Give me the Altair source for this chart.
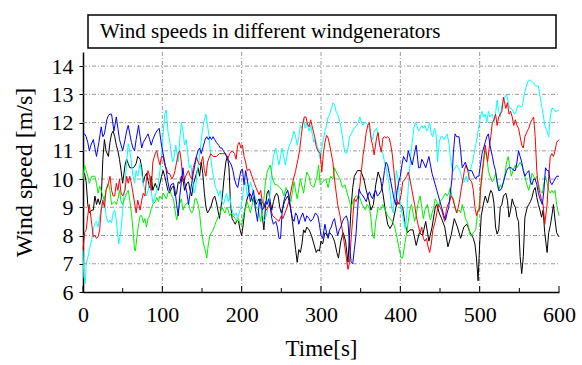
import altair as alt
import pandas as pd

SERIF = "Liberation Serif"

chart_title = "Wind speeds in different windgenerators"
x_title = "Time[s]"
y_title = "Wind speed [m/s]"

x_ticks = [0, 100, 200, 300, 400, 500, 600]
x_minor = [50, 150, 250, 350, 450, 550]
y_ticks = [6, 7, 8, 9, 10, 11, 12, 13, 14]
x_grid = [100, 200, 300, 400, 500]
y_grid = [7, 8, 9, 10, 11, 12, 13, 14]

# (time [s], wind speed [m/s])
black = [(0,10.2),(2,10.2),(4,9.9),(6,9.1),(8,8.8),(11,8.9),(13,8.9),(15,9.4),(17,9.1),(19,9.3),(21,9.1),(23,9.3),(25,10.7),(27,11.4),(29,11.0),(32,10.8),(34,11.3),(36,11.6),(38,11.7),(40,11.5),(42,11.2),(44,11.0),(46,10.7),(48,10.3),(50,9.85),(53,10.5),(55,10.7),(57,10.55),(59,10.4),(61,10.4),(63,10.4),(65,10.45),(67,10.55),(69,10.8),(72,10.7),(74,10.4),(76,9.85),(78,10.1),(80,10.2),(82,9.95),(84,9.7),(86,10.1),(88,9.6),(91,9.85),(93,9.7),(95,9.6),(97,9.85),(99,10.1),(101,10.3),(103,10.1),(105,9.85),(107,9.6),(109,9.5),(112,9.7),(114,9.75),(116,9.4),(118,9.5),(120,9.9),(122,9.85),(124,10.1),(126,10.0),(128,9.6),(131,9.85),(133,9.9),(135,9.6),(137,9.4),(139,9.8),(141,10.0),(143,10.2),(145,10.4),(147,10.1),(149,10.6),(151,10.2),(153,9.5),(155,9.0),(157,8.8),(159,8.9),(161,9.0),(164,9.3),(166,9.4),(168,9.2),(170,8.9),(172,8.6),(174,9.0),(176,9.5),(178,10.1),(180,10.6),(182,10.8),(184,10.4),(186,9.1),(188,8.6),(190,8.5),(192,8.4),(194,8.55),(196,8.5),(198,8.2),(200,8.0),(202,8.4),(204,8.9),(206,9.2),(208,9.4),(210,9.5),(212,9.4),(214,9.2),(216,9.4),(218,9.1),(220,9.2),(222,9.3),(224,9.1),(226,8.7),(228,8.2),(230,9.0),(232,9.5),(234,9.6),(236,9.2),(238,8.9),(240,9.2),(242,9.4),(244,9.5),(246,9.4),(248,9.0),(250,8.8),(252,9.0),(254,9.2),(256,9.3),(258,9.4),(260,9.2),(262,8.9),(264,8.5),(266,8.0),(268,7.5),(270,7.05),(272,7.5),(274,7.4),(276,7.7),(278,8.2),(280,8.1),(282,8.3),(285,8.2),(288,8.0),(291,7.7),(294,7.4),(296,7.5),(298,7.45),(300,7.8),(302,7.7),(305,8.1),(308,8.0),(311,8.1),(314,8.0),(317,7.8),(320,7.4),(322,7.2),(325,7.8),(328,8.1),(331,7.8),(334,7.05),(336,8.0),(338,9.0),(340,9.7),(342,10.1),(346,10.3),(350,10.3),(354,10.0),(357,9.6),(360,9.3),(363,8.9),(366,9.1),(369,9.8),(372,10.25),(375,10.0),(378,9.5),(381,8.9),(384,8.4),(387,8.25),(390,8.4),(393,8.8),(396,9.2),(400,9.1),(403,9.0),(406,8.4),(409,8.1),(412,8.2),(416,8.2),(420,7.65),(424,8.1),(428,8.0),(432,8.5),(436,7.8),(440,8.3),(444,9.0),(446,9.1),(449,8.8),(452,8.6),(456,8.3),(460,7.6),(464,8.0),(468,8.6),(472,8.3),(476,7.9),(480,8.3),(484,8.4),(488,8.1),(492,7.9),(494,7.7),(496,7.2),(498,6.4),(500,7.7),(502,8.7),(505,9.15),(507,9.4),(510,9.15),(512,9.4),(514,9.6),(516,9.5),(518,9.15),(520,8.3),(522,8.05),(524,8.2),(526,9.0),(528,9.1),(530,9.4),(533,9.5),(535,9.25),(537,8.65),(539,8.9),(541,9.3),(543,9.1),(545,9.0),(547,8.65),(549,8.5),(551,7.25),(553,6.65),(555,7.25),(557,8.65),(560,9.0),(562,9.1),(564,9.2),(566,9.35),(568,9.6),(570,9.7),(572,9.35),(574,9.1),(576,8.9),(578,8.65),(580,8.9),(582,8.1),(585,7.4),(587,8.1),(589,8.35),(591,8.7),(593,9.1),(595,8.55),(597,8.1),(600,7.95)]

red = [(0,7.5),(2,8.1),(4,8.2),(6,8.7),(8,9.1),(11,8.4),(13,7.95),(15,8.0),(17,7.9),(19,7.95),(21,8.2),(23,8.9),(25,9.25),(27,9.0),(29,9.6),(32,9.85),(34,10.1),(36,9.6),(38,9.4),(40,9.4),(42,9.85),(44,9.6),(46,10.0),(48,9.5),(50,9.4),(53,9.6),(55,10.1),(57,9.85),(59,10.1),(61,9.85),(63,9.5),(65,9.15),(67,8.8),(69,9.25),(72,8.9),(74,9.25),(76,9.5),(78,9.4),(80,10.0),(82,10.3),(84,10.1),(86,9.6),(88,10.6),(91,10.9),(93,11.0),(95,10.7),(97,10.5),(99,10.8),(101,10.8),(103,10.5),(105,10.4),(107,10.2),(109,10.2),(112,10.0),(114,10.1),(116,10.3),(118,10.6),(120,10.9),(122,11.0),(124,10.6),(126,9.9),(128,10.0),(131,10.2),(133,10.3),(135,10.1),(137,10.0),(139,10.4),(141,10.6),(143,10.8),(145,10.6),(147,10.5),(149,10.6),(151,10.8),(153,10.3),(155,10.1),(157,10.6),(159,10.75),(161,10.9),(164,10.8),(168,10.8),(172,10.9),(176,10.9),(180,10.9),(182,10.7),(185,10.9),(188,11.0),(191,10.9),(193,10.7),(195,11.2),(197,11.3),(199,11.1),(201,11.2),(203,10.8),(205,10.6),(207,10.3),(210,10.35),(213,10.1),(216,9.85),(218,9.7),(222,9.45),(224,9.6),(226,9.2),(229,9.0),(231,8.9),(235,9.1),(239,8.7),(243,8.6),(247,8.5),(250,8.7),(252,8.6),(256,8.9),(260,9.25),(264,9.85),(268,10.3),(271,10.7),(273,11.0),(275,11.5),(277,11.95),(279,12.2),(281,12.2),(283,11.95),(285,11.85),(287,12.1),(289,11.85),(292,11.5),(294,11.15),(296,11.0),(299,10.9),(301,10.25),(303,10.9),(305,11.3),(307,11.55),(309,11.45),(311,11.2),(313,10.9),(315,10.6),(317,10.0),(319,9.55),(321,9.1),(324,8.7),(326,8.35),(328,8.0),(330,7.6),(332,7.2),(334,6.8),(336,7.05),(338,7.9),(340,8.6),(342,9.3),(344,9.2),(347,9.4),(349,9.75),(351,10.3),(353,10.85),(355,11.2),(357,11.65),(359,11.9),(361,12.0),(363,11.45),(365,11.2),(367,10.85),(370,11.45),(372,11.65),(374,11.2),(376,10.95),(378,11.45),(380,11.5),(382,11.45),(384,11.5),(386,11.45),(388,11.2),(390,10.85),(392,10.25),(395,9.4),(397,9.1),(399,9.2),(401,9.45),(403,9.9),(406,10.0),(408,10.1),(410,10.25),(412,10.0),(414,9.7),(416,9.4),(418,9.1),(420,8.7),(423,8.3),(425,8.1),(427,8.3),(429,7.9),(431,7.8),(433,7.9),(435,7.6),(437,7.4),(439,7.7),(441,8.2),(444,8.5),(446,8.8),(448,9.1),(450,9.0),(452,8.9),(454,8.7),(456,8.5),(458,8.9),(460,9.1),(462,9.2),(464,9.4),(466,9.3),(469,9.0),(471,8.8),(473,9.0),(475,9.3),(477,9.7),(479,10.0),(481,10.35),(483,10.5),(485,10.3),(487,10.0),(490,9.9),(492,9.6),(494,9.0),(496,8.7),(498,8.9),(500,8.9),(501,9.6),(503,10.2),(505,10.7),(507,11.2),(510,10.6),(512,11.1),(514,11.5),(516,12.0),(518,12.1),(520,12.3),(522,11.9),(524,12.2),(528,12.4),(530,12.9),(533,12.5),(535,12.7),(537,12.3),(539,12.4),(541,12.2),(543,11.9),(545,12.1),(547,11.9),(549,11.8),(551,11.5),(553,11.2),(555,11.1),(557,11.5),(560,11.7),(562,11.8),(564,12.0),(566,12.1),(568,12.2),(570,11.5),(572,10.3),(574,9.7),(576,9.5),(578,9.25),(580,9.1),(582,8.4),(585,9.1),(587,10.1),(589,10.8),(591,10.9),(593,10.8),(595,11.0),(597,11.3),(600,11.4)]

green = [(0,10.0),(2,10.5),(4,10.3),(6,10.1),(8,9.85),(11,10.1),(13,10.1),(15,10.1),(17,9.85),(19,9.5),(21,9.75),(23,9.6),(25,9.4),(27,9.25),(29,9.6),(32,9.85),(34,9.6),(36,9.1),(38,9.15),(40,9.2),(42,9.1),(44,9.3),(46,9.6),(48,9.2),(50,9.1),(53,9.35),(55,9.5),(57,9.6),(59,9.25),(61,8.8),(63,8.2),(65,7.5),(66,7.45),(69,8.2),(72,8.7),(74,8.7),(76,8.45),(78,8.6),(80,8.3),(82,8.6),(84,8.7),(86,8.95),(88,9.1),(91,9.2),(93,9.35),(95,9.2),(97,9.4),(99,9.3),(101,9.5),(103,9.4),(105,9.3),(107,9.5),(109,9.6),(112,9.4),(114,9.3),(116,8.9),(118,8.55),(120,8.8),(122,9.15),(124,9.3),(126,8.9),(128,9.05),(131,9.15),(133,9.15),(135,8.9),(137,8.8),(139,8.9),(141,9.3),(143,9.3),(145,9.1),(147,8.8),(149,8.2),(152,7.7),(154,7.5),(156,7.2),(158,7.7),(160,8.0),(162,8.1),(164,8.2),(166,8.35),(168,8.5),(171,8.7),(173,8.8),(175,9.0),(177,8.9),(179,8.8),(181,9.0),(183,8.9),(185,8.7),(187,8.8),(189,8.7),(192,8.6),(194,8.5),(196,8.6),(198,8.4),(200,8.4),(203,8.8),(207,9.2),(211,8.8),(215,9.3),(218,9.0),(221,8.9),(224,8.5),(227,9.0),(230,9.9),(232,10.25),(236,10.5),(239,10.0),(242,9.8),(245,9.8),(248,9.7),(251,9.6),(253,9.4),(256,9.7),(259,9.5),(262,9.2),(266,9.9),(270,9.3),(274,10.0),(278,9.5),(282,10.25),(285,10.1),(287,9.8),(291,9.7),(295,10.1),(297,10.5),(299,9.8),(302,9.9),(306,10.0),(309,9.7),(312,10.1),(315,10.0),(317,10.4),(320,10.2),(324,10.0),(327,9.7),(330,9.8),(334,9.4),(338,9.0),(340,9.2),(344,9.4),(348,9.4),(352,9.1),(356,8.9),(358,9.1),(361,9.0),(363,8.6),(365,8.0),(367,7.9),(369,8.5),(372,9.0),(375,8.9),(378,9.1),(381,8.9),(384,8.7),(387,8.6),(390,8.5),(393,8.3),(396,7.9),(398,7.6),(401,7.2),(403,7.2),(405,7.6),(408,8.1),(410,8.5),(412,8.9),(414,9.1),(416,8.8),(418,8.5),(420,8.7),(422,9.1),(425,9.4),(427,9.0),(429,8.6),(431,8.9),(434,9.1),(436,8.8),(438,8.55),(440,8.8),(442,9.0),(444,9.3),(446,9.2),(448,9.0),(450,9.2),(453,9.3),(455,9.4),(457,9.5),(459,9.4),(461,9.5),(463,9.7),(465,9.4),(467,9.3),(469,9.0),(471,8.8),(474,8.9),(476,8.8),(478,9.1),(480,8.9),(482,8.6),(484,8.5),(486,8.3),(488,8.0),(490,8.0),(492,8.1),(495,8.2),(497,8.7),(499,9.0),(501,9.6),(503,10.1),(505,10.6),(507,11.0),(509,10.8),(511,10.3),(513,10.1),(516,9.9),(518,10.0),(520,10.2),(522,9.9),(524,9.6),(526,9.8),(528,9.7),(530,9.9),(532,10.2),(534,10.6),(536,10.8),(538,10.4),(540,10.1),(542,10.3),(545,10.5),(547,10.4),(549,10.5),(551,10.6),(553,10.5),(555,10.3),(557,10.1),(559,9.85),(562,9.6),(564,9.85),(566,10.2),(568,10.1),(570,10.0),(572,10.1),(574,9.85),(576,9.6),(579,9.5),(581,9.85),(583,10.1),(585,9.85),(587,9.6),(589,9.5),(591,9.6),(593,9.5),(595,9.6),(597,9.1),(600,8.7)]

cyan = [(0,7.5),(1,6.55),(3,6.3),(4,7.0),(6,7.2),(8,7.5),(11,7.85),(13,8.2),(15,8.45),(17,8.5),(19,8.3),(21,8.65),(23,9.0),(25,9.25),(27,9.4),(29,8.7),(32,8.45),(34,8.55),(36,8.45),(38,8.8),(40,8.9),(42,8.55),(44,7.95),(45,7.7),(48,8.2),(50,8.9),(53,9.85),(55,10.6),(57,11.25),(59,11.0),(61,10.6),(63,10.1),(65,9.85),(67,10.3),(69,10.1),(72,10.55),(74,10.2),(76,9.85),(78,9.6),(80,9.4),(82,9.6),(84,9.85),(86,9.6),(88,9.15),(91,9.4),(93,9.6),(95,9.85),(97,10.3),(99,10.8),(101,11.6),(103,12.3),(105,12.45),(107,11.7),(109,11.4),(111,11.0),(113,10.6),(115,10.8),(117,11.2),(120,10.6),(122,11.4),(124,12.0),(126,11.7),(128,11.2),(130,11.4),(132,10.9),(134,10.4),(136,10.5),(138,10.0),(140,9.5),(142,9.7),(144,10.3),(146,10.6),(148,11.1),(150,11.6),(152,12.0),(155,12.3),(157,11.9),(159,11.5),(161,10.8),(163,10.3),(165,10.0),(167,9.7),(169,9.6),(171,9.4),(173,9.6),(175,9.2),(177,9.1),(179,9.3),(181,9.5),(183,9.2),(185,9.4),(187,9.0),(189,8.8),(191,8.7),(193,8.8),(195,8.6),(197,8.8),(199,9.0),(201,9.3),(203,9.8),(205,9.9),(207,9.4),(209,9.6),(211,9.9),(213,9.7),(215,9.5),(218,9.3),(220,9.2),(222,9.1),(224,9.05),(226,8.8),(228,8.5),(230,8.6),(232,8.8),(234,9.1),(236,9.5),(238,10.4),(240,10.8),(243,11.1),(245,10.8),(247,10.5),(249,10.8),(251,11.1),(253,10.8),(255,10.5),(257,10.8),(259,11.1),(262,11.3),(264,11.5),(266,11.7),(268,11.5),(270,11.2),(272,11.5),(274,11.9),(276,11.8),(278,12.15),(280,11.8),(282,12.0),(285,11.7),(287,11.9),(289,11.6),(291,11.3),(293,11.4),(295,11.2),(297,11.0),(299,10.7),(301,11.1),(303,11.4),(305,11.7),(307,11.9),(309,12.2),(311,12.3),(313,12.5),(315,12.7),(317,12.65),(319,12.4),(321,12.3),(324,12.0),(326,11.7),(328,11.3),(330,10.95),(332,10.9),(334,11.1),(336,11.5),(338,11.6),(340,11.7),(342,11.8),(345,11.9),(347,12.0),(349,12.2),(351,12.0),(353,11.9),(355,12.0),(357,12.0),(359,11.9),(361,11.8),(363,11.5),(365,11.4),(367,11.7),(370,11.8),(372,11.5),(374,11.2),(376,11.0),(378,10.9),(380,10.6),(382,10.4),(384,10.1),(386,9.8),(389,9.0),(391,8.8),(393,9.5),(395,10.3),(397,10.0),(399,9.3),(402,8.8),(404,8.6),(406,8.25),(408,8.7),(410,9.7),(413,10.8),(415,11.3),(417,11.8),(419,12.0),(421,11.9),(423,11.7),(425,11.8),(427,11.9),(429,11.8),(431,11.9),(433,11.7),(435,11.8),(437,12.0),(439,11.6),(441,11.5),(443,11.8),(445,11.6),(447,10.6),(449,11.3),(451,11.5),(453,11.5),(455,11.4),(457,11.5),(459,11.6),(461,11.3),(463,10.8),(465,10.4),(467,10.3),(469,10.4),(471,10.5),(473,10.4),(475,10.3),(477,10.1),(479,9.9),(481,9.9),(483,10.1),(485,9.9),(487,10.2),(489,10.4),(491,10.6),(493,10.9),(495,11.2),(497,11.5),(499,11.9),(501,12.2),(503,12.4),(505,12.2),(507,12.3),(509,12.0),(511,12.4),(513,12.2),(516,12.3),(518,12.0),(520,12.3),(522,12.8),(524,12.4),(526,12.2),(528,12.6),(530,12.8),(532,12.9),(534,13.0),(536,12.7),(538,12.5),(540,12.5),(542,12.4),(544,12.3),(546,12.4),(548,12.6),(550,12.6),(552,12.55),(554,12.6),(556,12.95),(558,13.2),(560,13.4),(562,13.5),(564,13.5),(566,13.45),(568,13.4),(570,13.3),(572,13.3),(574,13.3),(576,12.95),(578,12.6),(580,12.3),(582,11.9),(585,11.7),(587,11.5),(589,12.2),(591,12.5),(593,12.5),(595,12.4),(597,12.4),(600,12.45)]

blue = [(0,11.55),(2,11.6),(4,11.5),(6,11.3),(8,11.0),(10,11.2),(13,11.4),(15,11.1),(17,10.8),(20,11.3),(23,11.85),(25,11.5),(27,11.6),(30,12.1),(32,12.25),(34,12.3),(36,12.3),(39,11.7),(42,12.2),(44,11.8),(46,11.4),(48,11.2),(50,11.0),(53,11.4),(55,11.7),(57,11.9),(59,11.6),(61,11.3),(63,11.1),(65,11.0),(67,11.4),(70,11.9),(72,11.5),(74,11.1),(76,11.3),(78,11.4),(80,11.5),(82,11.6),(84,11.4),(86,11.2),(88,11.4),(91,11.6),(93,11.7),(96,11.8),(99,11.2),(101,10.9),(103,10.6),(105,10.3),(107,9.9),(109,9.6),(111,9.8),(114,9.85),(116,9.6),(118,9.1),(120,8.7),(122,9.4),(124,9.9),(126,10.4),(128,9.9),(131,9.5),(133,9.1),(135,9.5),(137,9.85),(139,10.2),(141,10.5),(143,10.8),(145,11.0),(147,11.1),(149,10.9),(152,11.2),(154,11.4),(156,11.5),(158,11.4),(160,11.5),(162,11.4),(164,11.5),(166,11.4),(168,11.3),(171,11.2),(173,11.1),(175,11.1),(177,11.0),(179,10.9),(181,10.8),(183,10.7),(185,10.6),(187,10.5),(189,10.3),(191,10.0),(193,9.8),(195,9.7),(197,10.0),(199,10.3),(201,10.35),(203,9.8),(205,10.3),(207,10.0),(209,9.6),(211,9.2),(213,9.4),(215,9.6),(217,9.0),(220,8.5),(222,9.1),(224,9.3),(226,8.9),(228,9.0),(230,9.2),(232,9.1),(234,9.3),(236,9.0),(238,8.6),(240,8.4),(243,8.5),(245,8.3),(247,7.9),(249,7.9),(251,8.8),(253,9.2),(256,9.5),(258,9.6),(260,9.3),(262,8.9),(264,8.6),(266,8.5),(268,8.8),(270,8.7),(272,8.4),(274,8.6),(277,8.8),(280,8.5),(282,8.7),(285,8.6),(287,8.5),(290,8.6),(293,8.8),(296,8.7),(298,8.4),(300,8.0),(302,7.9),(305,8.4),(307,8.1),(309,7.9),(311,8.2),(313,8.3),(315,8.5),(317,8.6),(319,8.3),(321,8.0),(323,8.2),(325,8.3),(327,8.5),(329,8.6),(332,8.7),(334,8.5),(336,7.6),(338,7.05),(340,7.0),(342,7.5),(344,8.0),(346,8.85),(348,9.65),(350,9.5),(353,9.4),(355,9.3),(357,9.2),(359,9.4),(361,9.55),(363,9.4),(365,9.3),(367,9.5),(369,9.6),(371,9.4),(373,9.45),(376,9.6),(378,9.85),(380,10.3),(382,10.6),(384,10.5),(386,10.2),(388,9.9),(390,9.6),(392,9.3),(394,9.1),(396,9.6),(398,9.9),(400,10.1),(402,10.5),(404,10.8),(406,10.7),(408,10.6),(410,11.0),(412,10.8),(415,10.5),(417,10.8),(420,11.2),(423,10.4),(425,10.4),(427,10.7),(429,10.6),(432,10.4),(434,10.6),(436,10.8),(438,10.5),(440,10.2),(442,10.0),(444,9.8),(446,9.6),(448,9.4),(450,9.2),(453,8.9),(455,8.7),(457,8.55),(459,8.8),(461,9.0),(463,9.5),(465,10.0),(467,11.0),(469,11.6),(471,11.5),(474,11.5),(476,11.0),(478,10.4),(480,10.5),(482,10.6),(484,10.4),(486,10.3),(488,10.3),(490,10.3),(493,10.1),(495,10.0),(497,10.1),(499,10.1),(501,10.5),(503,10.9),(505,11.1),(507,11.3),(509,11.5),(511,11.6),(513,11.2),(516,10.8),(518,10.5),(520,10.3),(522,9.9),(524,9.6),(526,9.6),(528,9.7),(530,9.9),(532,10.1),(534,10.3),(536,10.4),(538,10.4),(540,10.4),(543,10.3),(545,10.3),(547,10.6),(549,11.0),(551,10.8),(553,10.6),(555,10.3),(557,10.1),(559,10.2),(562,10.3),(564,9.9),(566,9.8),(568,10.0),(570,10.0),(572,9.8),(574,9.5),(576,9.3),(579,9.1),(581,9.6),(583,10.4),(585,10.3),(587,10.3),(589,9.9),(591,9.8),(593,9.9),(595,10.0),(597,10.1),(600,10.1)]

series_order = ["black", "cyan", "green", "red", "blue"]
series_data = {"black": black, "cyan": cyan, "green": green, "red": red, "blue": blue}
series_colors = {"black": "#000000", "cyan": "#00FFFF", "green": "#00F000",
                 "red": "#FF0000", "blue": "#0000FF"}

PLOT_W, PLOT_H = 476, 240

xs = alt.Scale(domain=[0, 600], nice=False, zero=False)
ys = alt.Scale(domain=[6, 14.5], nice=False, zero=False)

x_axis = alt.Axis(values=x_ticks, title=x_title, grid=False, ticks=False,
                  labelFont=SERIF, labelFontSize=22, labelPadding=12, labelColor="black",
                  labelFlush=False, format="d",
                  titleFont=SERIF, titleFontSize=23, titleFontWeight="normal",
                  titleColor="black", titlePadding=12,
                  domainColor="black", domainWidth=1.5)
y_axis = alt.Axis(values=y_ticks, title=y_title, grid=False, ticks=True, tickSize=4,
                  tickColor="black", tickWidth=1,
                  labelFont=SERIF, labelFontSize=22, labelPadding=6, labelColor="black",
                  format="d",
                  titleFont=SERIF, titleFontSize=24, titleFontWeight="normal",
                  titleColor="black", titlePadding=15,
                  domainColor="black", domainWidth=1.5)

X = alt.X("t:Q", scale=xs, axis=x_axis)
Y = alt.Y("v:Q", scale=ys, axis=y_axis)

grid_style = dict(color="#808080", strokeWidth=0.8, strokeDash=[4, 2, 1, 2])

xgrid = alt.Chart(pd.DataFrame({"t": x_grid})).mark_rule(**grid_style).encode(
    x=X, y=alt.value(0), y2=alt.value(PLOT_H))
ygrid = alt.Chart(pd.DataFrame({"v": y_grid})).mark_rule(**grid_style).encode(
    y=Y, x=alt.value(0), x2=alt.value(PLOT_W))

line_layers = []
for name in series_order:
    pts = series_data[name]
    df = pd.DataFrame({"t": [p[0] for p in pts], "v": [p[1] for p in pts]})
    line_layers.append(
        alt.Chart(df).mark_line(color=series_colors[name], strokeWidth=1).encode(x=X, y=Y)
    )

xticks_major = alt.Chart(pd.DataFrame({"t": x_ticks})).mark_rule(color="black", strokeWidth=1).encode(
    x=X, y=alt.value(PLOT_H - 6), y2=alt.value(PLOT_H))
xticks_minor = alt.Chart(pd.DataFrame({"t": x_minor})).mark_rule(color="black", strokeWidth=1).encode(
    x=X, y=alt.value(PLOT_H - 4), y2=alt.value(PLOT_H))

box_df = pd.DataFrame({"label": [chart_title]})
box = alt.Chart(box_df).mark_rect(fill="white", stroke="black", strokeWidth=1.5).encode(
    x=alt.value(5), x2=alt.value(473), y=alt.value(-37), y2=alt.value(-4))
box_text = alt.Chart(box_df).mark_text(align="left", baseline="middle", font=SERIF,
                                       fontSize=21, color="black").encode(
    x=alt.value(17), y=alt.value(-20), text="label:N")

chart = alt.layer(xgrid, ygrid, *line_layers, xticks_major, xticks_minor, box, box_text).properties(
    width=PLOT_W, height=PLOT_H,
    padding={"left": 83, "top": 52, "right": 23, "bottom": 73},
    autosize=alt.AutoSizeParams(type="none"),
    background="white",
).configure_view(stroke=None)

chart.save("out.html", embed_options={"renderer": "svg", "actions": False})
